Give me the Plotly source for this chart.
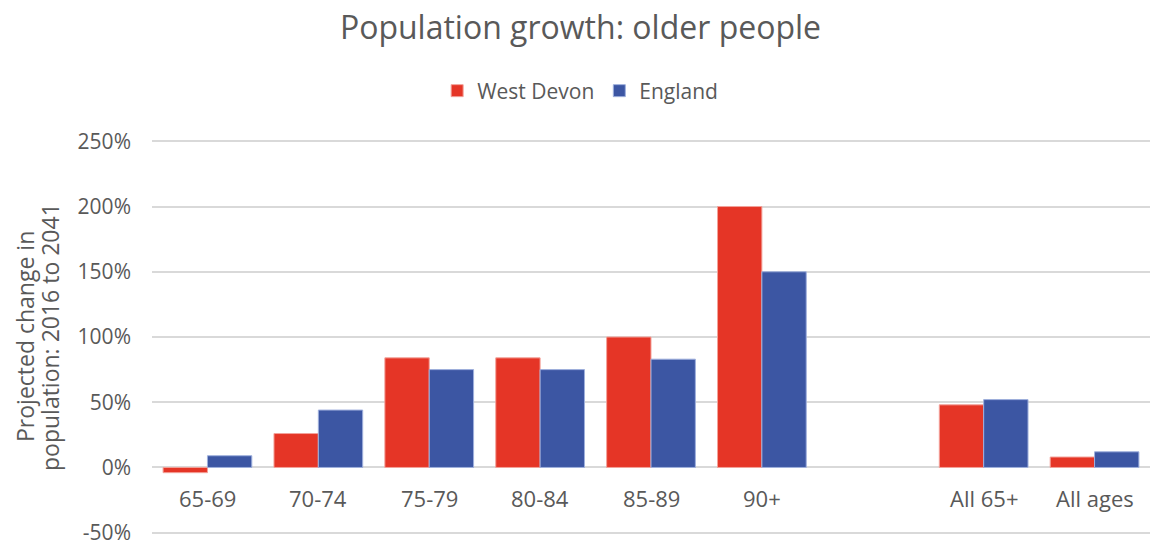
import plotly.graph_objects as go

# age groups (blank slot separates the summary bars)
categories = ["65-69", "70-74", "75-79", "80-84", "85-89", "90+", " ", "All 65+", "All ages"]
west_devon = [-4, 26, 84, 84, 100, 200, None, 48, 8]
england = [9, 44, 75, 75, 83, 150, None, 52, 12]

y_ticks = [-50, 0, 50, 100, 150, 200, 250]
y_labels = [f"{v}%" for v in y_ticks]

FONT = "Open Sans"
GREY = "#595959"

fig = go.Figure()
fig.add_trace(go.Bar(
    x=categories, y=west_devon, name="West Devon",
    marker=dict(color="#e53526", line=dict(color="#f3a29a", width=1)),
))
fig.add_trace(go.Bar(
    x=categories, y=england, name="England",
    marker=dict(color="#3c56a3", line=dict(color="#9fb0dd", width=1)),
))

# category labels sit just under the zero line, like in the Excel original
for c in categories:
    fig.add_annotation(
        x=c, y=0, xref="x", yref="y", text=c.strip(), showarrow=False,
        yanchor="top", yshift=-14, font=dict(family=FONT, size=22, color=GREY),
    )

# y axis title, two lines placed separately to keep them tight
for txt, px in [("Projected change in", 25), ("population: 2016 to 2041", 50)]:
    fig.add_annotation(
        x=(px - 152) / 998, y=0.5, xref="paper", yref="paper", textangle=-90,
        text=txt, showarrow=False, xanchor="center", yanchor="middle",
        font=dict(family=FONT, size=23, color=GREY),
    )

fig.update_layout(
    width=1154, height=545,
    margin=dict(l=152, r=4, t=140, b=11, autoexpand=False),
    paper_bgcolor="white", plot_bgcolor="white",
    font=dict(family=FONT, color=GREY),
    title=dict(text="Population growth: older people", x=0.503, xanchor="center",
               y=1 - 28 / 545, yanchor="middle", font=dict(family=FONT, size=32, color=GREY)),
    legend=dict(orientation="h", x=0.429, xanchor="center", y=1 + 49 / 394, yanchor="middle",
                font=dict(family=FONT, size=21, color=GREY), itemwidth=30,
                traceorder="normal"),
    barmode="group", bargap=0.2, bargroupgap=0,
    xaxis=dict(showticklabels=False, showline=False, showgrid=False, ticks="",
               fixedrange=True, automargin=False),
    yaxis=dict(range=[-51, 251], tickvals=y_ticks, ticktext=y_labels,
               showgrid=True, gridcolor="#d9d9d9", gridwidth=1.5, zeroline=False,
               showline=False, ticks="", ticklabelstandoff=20, automargin=False,
               ticklabeloverflow="allow",
               tickfont=dict(family=FONT, size=21, color=GREY)),
    showlegend=True,
)

# drop the page's default 8px body margin so the figure fills the window
fig.write_html("out.html", config={"displayModeBar": False},
               post_script="document.body.style.margin='0';")
